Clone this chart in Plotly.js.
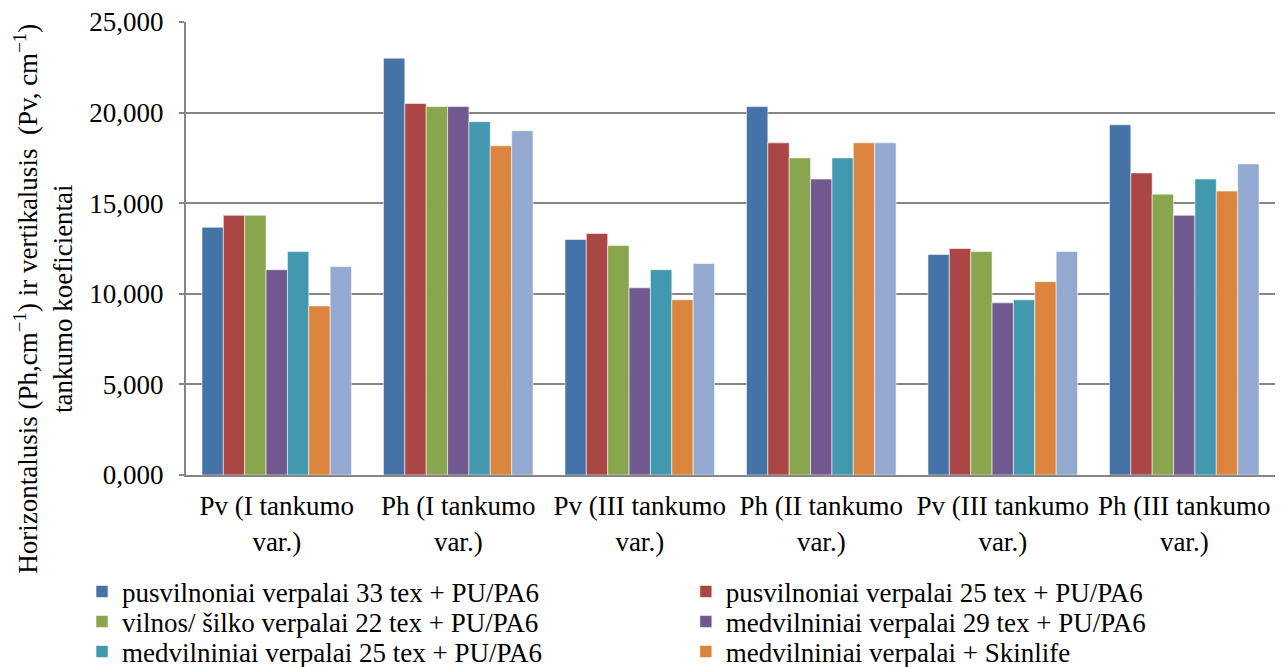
<!DOCTYPE html>
<html>
<head>
<meta charset="utf-8">
<script src="https://cdn.plot.ly/plotly-3.0.1.min.js"></script>
<style>
  html, body { margin: 0; padding: 0; background: #fff; }
  #chart { width: 1283px; height: 667px; }
</style>
</head>
<body>
<div id="chart"></div>
<script>
// Groups along the x axis (two of them share the same label, so positions are numeric)
const categories = [
  "Pv (I tankumo<br>var.)",
  "Ph (I tankumo<br>var.)",
  "Pv (III tankumo<br>var.)",
  "Ph (II tankumo<br>var.)",
  "Pv (III tankumo<br>var.)",
  "Ph (III tankumo<br>var.)"
];
const positions = [0, 1, 2, 3, 4, 5];

// Series names
const seriesNames = [
  "pusvilnoniai verpalai 33 tex + PU/PA6",
  "pusvilnoniai verpalai 25 tex + PU/PA6",
  "vilnos/ šilko verpalai 22 tex + PU/PA6",
  "medvilniniai verpalai 29 tex + PU/PA6",
  "medvilniniai verpalai 25 tex + PU/PA6",
  "medvilniniai verpalai + Skinlife",
  "7"
];

// Density coefficients per series
const pusvilnoniai33 = [13.67, 23.00, 13.00, 20.33, 12.17, 19.33];
const pusvilnoniai25 = [14.33, 20.50, 13.33, 18.33, 12.50, 16.67];
const vilnosSilko22  = [14.33, 20.33, 12.67, 17.50, 12.33, 15.50];
const medvilniniai29 = [11.33, 20.33, 10.33, 16.33,  9.50, 14.33];
const medvilniniai25 = [12.33, 19.50, 11.33, 17.50,  9.67, 16.33];
const skinlife       = [ 9.33, 18.17,  9.67, 18.33, 10.67, 15.67];
const series7        = [11.50, 19.00, 11.67, 18.33, 12.33, 17.17];

const seriesValues = [pusvilnoniai33, pusvilnoniai25, vilnosSilko22,
                      medvilniniai29, medvilniniai25, skinlife, series7];

const colors = ["#4572A7", "#AA4643", "#89A54E", "#71588F", "#4198AF", "#DB843D", "#93A9CF"];

// Y axis ticks
const yTicks = [0, 5, 10, 15, 20, 25];

const FONT = "Liberation Serif";
const FSIZE = 27;

// One legend per entry, laid out as a 2-column grid under the plot
const legendKeys = ["legend", "legend2", "legend3", "legend4", "legend5", "legend6"];
const legendX = [-0.0955, 0.459];
const legendY = [-0.258, -0.3245, -0.3907];

const traces = seriesValues.map((vals, i) => ({
  type: "bar",
  x: positions,
  y: vals,
  name: seriesNames[i],
  marker: { color: colors[i], line: { color: "rgba(255,255,255,0.55)", width: 1 } },
  showlegend: i < 6,
  legend: i < 6 ? legendKeys[i] : undefined,
  hoverinfo: "y+name"
}));

const layout = {
  width: 1283,
  height: 667,
  paper_bgcolor: "#ffffff",
  plot_bgcolor: "#ffffff",
  font: { family: FONT, size: FSIZE, color: "#000" },
  separators: ", ",
  margin: { l: 186, r: 8, t: 22, b: 192, autoexpand: false },
  barmode: "group",
  bargap: 0.176,
  bargroupgap: 0,
  xaxis: {
    range: [-0.5, 5.5],
    tickvals: positions,
    ticktext: categories,
    tickfont: { family: FONT, size: FSIZE, color: "#000" },
    showgrid: false,
    zeroline: false,
    showline: true,
    linecolor: "#858585",
    linewidth: 2,
    ticks: "",
    ticklabelstandoff: 6,
    fixedrange: true
  },
  yaxis: {
    range: [0, 25],
    tickvals: yTicks,
    tickformat: ".3f",
    tickfont: { family: FONT, size: FSIZE, color: "#000" },
    showgrid: true,
    gridcolor: "#858585",
    gridwidth: 2,
    zeroline: false,
    showline: true,
    linecolor: "#858585",
    linewidth: 2,
    ticks: "outside",
    ticklen: 5,
    tickcolor: "#858585",
    tickwidth: 2,
    ticklabelstandoff: 10,
    fixedrange: true
  },
  annotations: [{
    text: "Horizontalusis (Ph,cm<sup>−1</sup>) ir vertikalusis \u00a0(Pv, cm<sup>−1</sup>)<br>tankumo koeficientai",
    xref: "paper", yref: "paper",
    x: -0.131, y: 0.39,
    xanchor: "center", yanchor: "middle",
    textangle: -90,
    showarrow: false,
    font: { family: FONT, size: FSIZE, color: "#000" }
  }]
};

legendKeys.forEach((key, i) => {
  layout[key] = {
    x: legendX[i % 2],
    y: legendY[Math.floor(i / 2)],
    xanchor: "left",
    yanchor: "middle",
    orientation: "v",
    bgcolor: "rgba(0,0,0,0)",
    borderwidth: 0,
    font: { family: FONT, size: FSIZE, color: "#000" }
  };
});

Plotly.newPlot("chart", traces, layout, { displayModeBar: false, staticPlot: true });
</script>
</body>
</html>
